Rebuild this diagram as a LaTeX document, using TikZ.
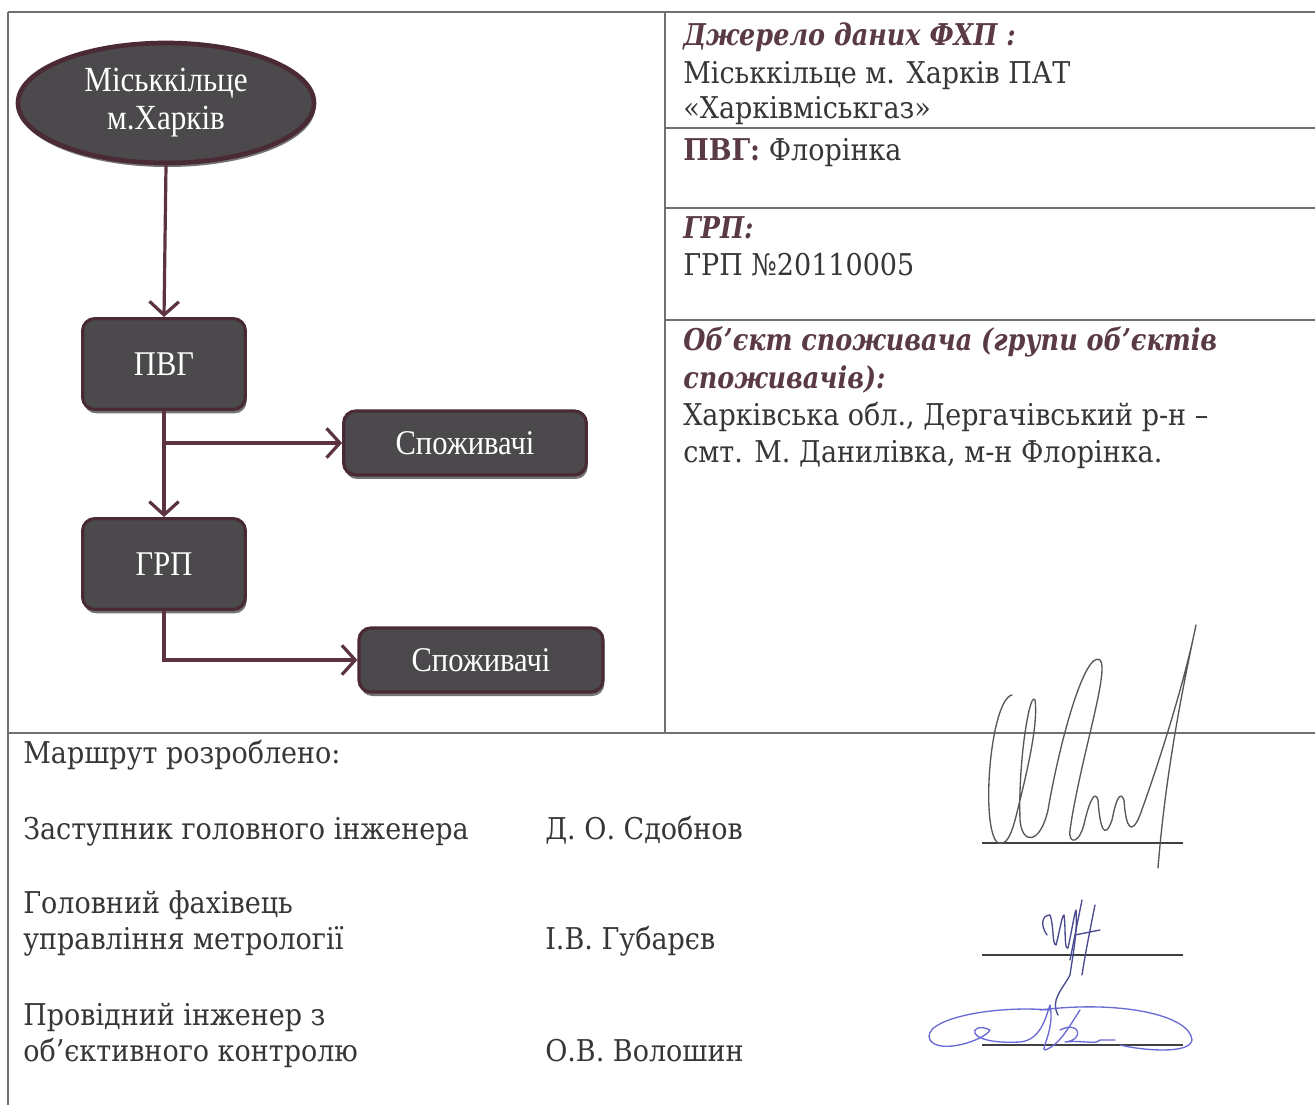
\documentclass[tikz,border=0pt]{standalone}
\usepackage{fontspec}
\setmainfont{Liberation Serif}
\newfontfamily\boxfont[FakeStretch=0.88]{Liberation Serif}
\newfontfamily\docfont[FakeStretch=0.9]{DejaVu Serif}
\newfontfamily\headfont[FakeStretch=0.85]{DejaVu Serif}
\usetikzlibrary{arrows.meta,shapes.geometric,shadows}
\definecolor{tableline}{HTML}{707070}
\definecolor{headcol}{HTML}{5A3A44}
\definecolor{txtcol}{HTML}{363636}
\definecolor{boxfill}{HTML}{4B494C}
\definecolor{boxdraw}{HTML}{4A2A36}
\definecolor{conncol}{HTML}{5B3343}
\definecolor{sigdark}{HTML}{5A5558}
\definecolor{sigblue}{HTML}{4A4A90}
\definecolor{siglight}{HTML}{6B6BD6}
\tikzset{
  boxshadow/.style={drop shadow={shadow xshift=1pt,shadow yshift=-3pt,fill=black,opacity=0.55}},
  flowbox/.style={rectangle,rounded corners=9pt,fill=boxfill,draw=boxdraw,line width=2.4pt,
     text=white,font=\boxfont\fontsize{26}{28}\selectfont,align=center,inner sep=0pt,boxshadow},
  flowell/.style={ellipse,fill=boxfill,draw=boxdraw,line width=3.5pt,text=white,
     font=\boxfont\fontsize{26.5}{28.5}\selectfont,align=center,inner sep=0pt,
     minimum width=222pt,minimum height=90pt,boxshadow},
  conn/.style={draw=conncol,line width=2.4pt,-{Straight Barb[length=10pt,width=22pt,line width=2.4pt]}},
  rule/.style={draw=tableline,line width=1.5pt},
  doc/.style={anchor=base west,inner sep=0pt,text=txtcol,font=\docfont\fontsize{22.5}{26}\selectfont},
  head/.style={doc,text=headcol,font=\headfont\bfseries\itshape\fontsize{22.5}{26}\selectfont},
  sig/.style={line width=1pt,line cap=round,line join=round},
}
\begin{document}
\begin{tikzpicture}[x=0.75pt,y=-0.75pt]
\useasboundingbox[fill=white] (0,0) rectangle (1315,1105);
% table rules
\draw[rule] (8,12) -- (1315,12);
\draw[rule] (8,12) -- (8,1105);
\draw[rule] (665,12) -- (665,733);
\draw[rule] (8,733) -- (1315,733);
\draw[rule] (665,128) -- (1315,128);
\draw[rule] (665,208) -- (1315,208);
\draw[rule] (665,320) -- (1315,320);
% flow chart
\node[flowell] (ell) at (166,103) {Міськкільце\\м.Харків};
\node[flowbox,minimum width=122pt,minimum height=68pt] (pvg) at (164,364) {ПВГ};
\node[flowbox,minimum width=182pt,minimum height=48pt] (sp1) at (465,443) {Споживачі};
\node[flowbox,minimum width=122pt,minimum height=68pt] (grp) at (164,564) {ГРП};
\node[flowbox,minimum width=183pt,minimum height=48pt] (sp2) at (481,660) {Споживачі};
\draw[conn] (ell.south) -- (pvg.north);
\draw[conn] (pvg.south) -- (grp.north);
\draw[conn] (pvg.south |- sp1.west) -- (sp1.west);
\draw[conn] (grp.south) |- (sp2.west);
% right column
\node[head] (h1) at (683,46) {Джерело даних ФХП :};
\node[doc] (t1) at (683,84) {Міськкільце м. Харків ПАТ};
\node[doc] (t2) at (683,119) {«Харківміськгаз»};
\node[doc] (t3) at (683,161) {{\bfseries\color{headcol}ПВГ:} Флорінка};
\node[head] (h2) at (683,239) {ГРП:};
\node[doc] (t4) at (683,276) {ГРП №20110005};
\node[head] (h3) at (683,351) {Об’єкт споживача (групи об’єктів};
\node[head] (h4) at (683,389) {споживачів):};
\node[doc] (t5) at (683,426) {Харківська обл., Дергачівський р-н –};
\node[doc] (t6) at (683,463) {смт. М. Данилівка, м-н Флорінка.};
% bottom
\node[doc] (b0) at (23,763) {Маршрут розроблено:};
\node[doc] (b1) at (23,839) {Заступник головного інженера};
\node[doc] (n1) at (545,839) {Д. О. Сдобнов};
\node[doc] (b2) at (23,913) {Головний фахівець};
\node[doc] (b3) at (23,949) {управління метрології};
\node[doc] (n2) at (545,949) {І.В. Губарєв};
\node[doc] (b4) at (23,1025) {Провідний інженер з};
\node[doc] (b5) at (23,1061) {об’єктивного контролю};
\node[doc] (n3) at (545,1061) {О.В. Волошин};
% signature lines
\draw[rule,draw=black!75] (982,843) -- (1183,843);
\draw[rule,draw=black!75] (982,955) -- (1183,955);
\draw[rule,draw=black!75] (982,1045) -- (1183,1045);
% signature 1
\draw[sig,draw=sigdark] (1012,695) .. controls (990,700) and (980,830) .. (998,843)
  .. controls (1010,848) and (1015,820) .. (1020,800)
  .. controls (1030,760) and (1038,720) .. (1035,700)
  .. controls (1030,690) and (1018,760) .. (1020,820)
  .. controls (1022,845) and (1040,845) .. (1048,810)
  .. controls (1060,740) and (1085,650) .. (1100,660)
  .. controls (1110,670) and (1080,760) .. (1070,830)
  .. controls (1068,845) and (1080,845) .. (1085,820)
  .. controls (1090,800) and (1095,790) .. (1098,800)
  .. controls (1100,830) and (1105,840) .. (1112,820)
  .. controls (1116,800) and (1120,790) .. (1124,800)
  .. controls (1126,830) and (1132,835) .. (1140,815)
  .. controls (1160,760) and (1185,680) .. (1196,625)
  .. controls (1180,700) and (1165,780) .. (1158,868);
% signature 2
\draw[sig,draw=sigblue] (1047,935) .. controls (1040,925) and (1042,915) .. (1050,915)
  .. controls (1054,925) and (1052,945) .. (1056,945)
  .. controls (1060,930) and (1062,915) .. (1064,915)
  .. controls (1066,930) and (1064,950) .. (1068,948)
  .. controls (1072,930) and (1074,915) .. (1076,910)
  .. controls (1078,930) and (1072,960) .. (1070,975)
  .. controls (1062,990) and (1050,1000) .. (1058,1015);
\draw[sig,draw=sigblue] (1082,900) -- (1070,960);
\draw[sig,draw=sigblue] (1095,905) .. controls (1090,930) and (1085,955) .. (1082,975);
\draw[sig,draw=sigblue] (1075,935) -- (1100,930);
% signature 3
\draw[sig,draw=siglight] (1050,1010) .. controls (990,1005) and (920,1020) .. (930,1040)
  .. controls (940,1055) and (985,1040) .. (990,1030)
  .. controls (970,1020) and (960,1045) .. (1020,1042)
  .. controls (1040,1040) and (1045,1020) .. (1050,1005)
  .. controls (1055,1030) and (1040,1050) .. (1045,1050)
  .. controls (1060,1045) and (1070,1025) .. (1080,1010);
\draw[sig,draw=siglight] (1040,1010) .. controls (1120,1000) and (1190,1015) .. (1192,1040)
  .. controls (1190,1055) and (1140,1050) .. (1120,1045);
\draw[sig,draw=siglight] (1060,1030) .. controls (1080,1020) and (1085,1040) .. (1065,1042)
  .. controls (1085,1040) and (1095,1045) .. (1100,1040) -- (1115,1040);
\end{tikzpicture}
\end{document}
